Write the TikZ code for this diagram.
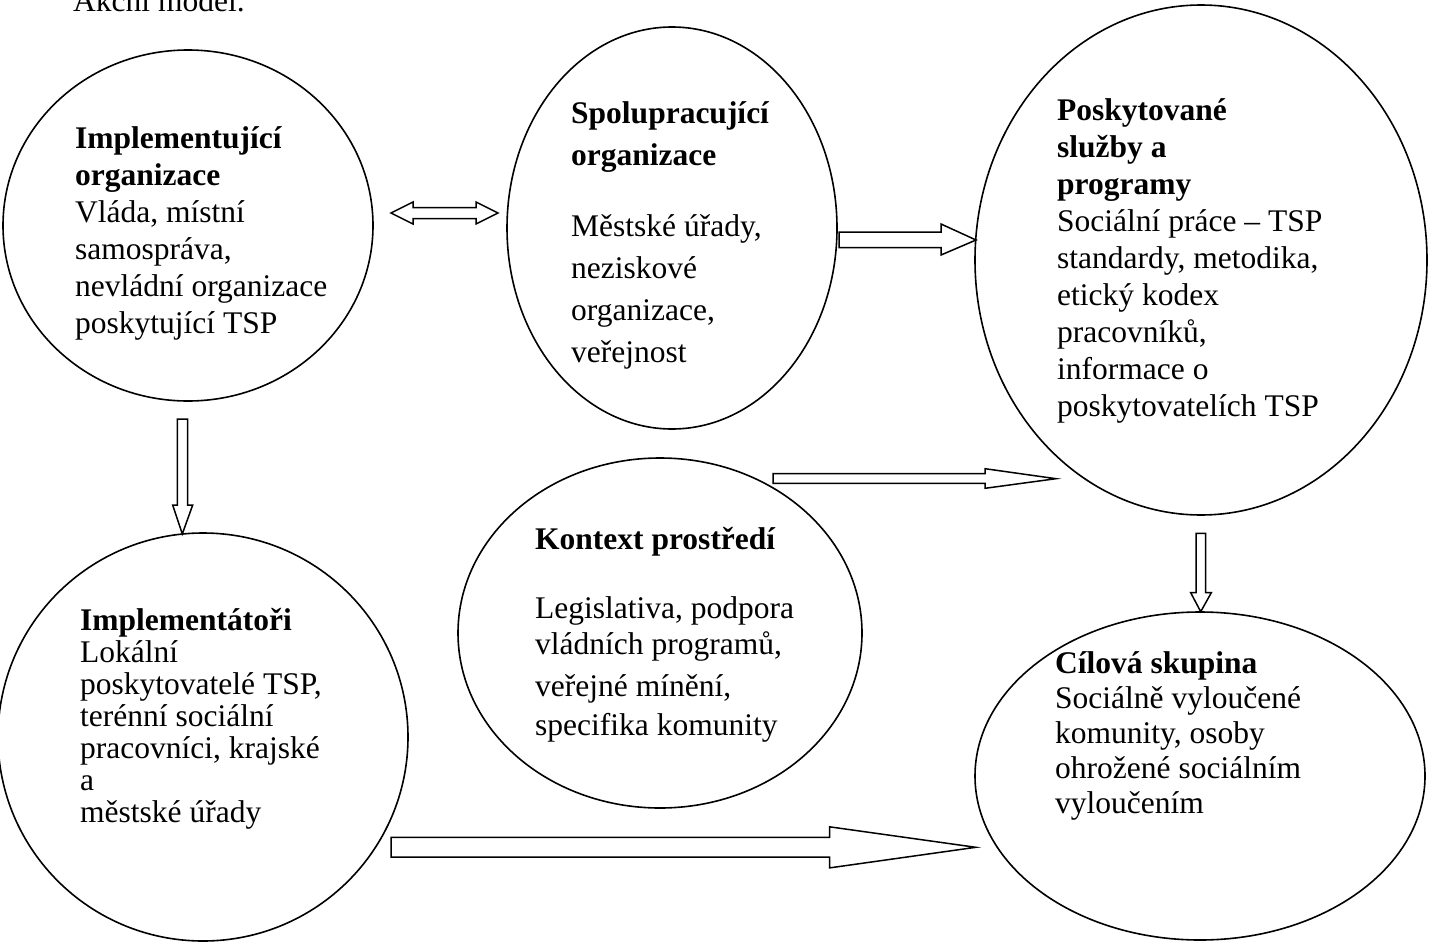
\documentclass[tikz,border=0pt]{standalone}
\usepackage{fontspec}
\setmainfont{Liberation Serif}
\usetikzlibrary{shapes.geometric}
\tikzset{
  oval/.style={draw, line width=1.6pt, ellipse, inner sep=0pt},
  txt/.style={anchor=base west, align=left, inner sep=0pt},
  blockarrow/.style={draw, line width=1.5pt, line join=miter, fill=white},
}
\newcommand{\fs}[1]{\fontsize{31.5}{#1}\selectfont}
\begin{document}
\begin{tikzpicture}[x=1pt,y=-1pt]
\useasboundingbox (0,0) rectangle (1435,942);
% ellipses
\node[oval, minimum width=370pt, minimum height=351pt] (e1) at (188,225.5) {};
\node[oval, minimum width=330pt, minimum height=402pt] (e2) at (672,228) {};
\node[oval, minimum width=452pt, minimum height=510pt] (e3) at (1201,260) {};
\node[oval, minimum width=410pt, minimum height=408pt] (e4) at (203,737) {};
\node[oval, minimum width=404pt, minimum height=350pt] (e5) at (660,633) {};
\node[oval, minimum width=450pt, minimum height=328pt] (e6) at (1200,776) {};
% title (anchor = baseline of last line)
\node[txt, font=\fs{36}] (title) at (73,12) {Akční model.};
% texts
\node[txt, font=\fs{37}] (t1) at (75,333) {\textbf{Implementující}\\\textbf{organizace}\\Vláda, místní\\samospráva,\\nevládní organizace\\poskytující TSP};
\node[txt, font=\fs{42}] (t2) at (571,362) {\textbf{Spolupracující}\\\textbf{organizace}\\[29pt]Městské úřady,\\neziskové\\organizace,\\veřejnost};
\node[txt, font=\fs{37}] (t3) at (1057,416) {\textbf{Poskytované}\\\textbf{služby a}\\\textbf{programy}\\Sociální práce – TSP\\standardy, metodika,\\etický kodex\\pracovníků,\\informace o\\poskytovatelích TSP};
\node[txt, font=\fs{32}] (t4) at (80,822) {\textbf{Implementátoři}\\Lokální\\poskytovatelé TSP,\\terénní sociální\\pracovníci, krajské\\a\\městské úřady};
\node[txt, font=\fs{36}] (t5) at (535,735) {\textbf{Kontext prostředí}\\[33pt]Legislativa, podpora\\vládních programů,\\[6pt]veřejné mínění,\\[3pt]specifika komunity};
\node[txt, font=\fs{35}] (t6) at (1055,813) {\textbf{Cílová skupina}\\Sociálně vyloučené\\komunity, osoby\\ohrožené sociálním\\vyloučením};
% block arrows
% double arrow e1 <-> e2
\draw[blockarrow] (391,213) -- (413,202) -- (413,207.5) -- (476,207.5) -- (476,202) -- (498,213)
  -- (476,224) -- (476,218.5) -- (413,218.5) -- (413,224) -- cycle;
% e2 -> e3
\draw[blockarrow] (839,232) -- (941,232) -- (941,224) -- (976,240) -- (941,255) -- (941,247.5) -- (839,247.5) -- cycle;
% e5 -> e3
\draw[blockarrow] (773,473.7) -- (985,473.7) -- (985,468.7) -- (1056,478.7) -- (985,488.3) -- (985,483.3) -- (773,483.3) -- cycle;
% e1 -> e4
\draw[blockarrow] (177.3,419) -- (187.7,419) -- (187.7,505) -- (192.7,505) -- (182.3,534) -- (172.7,505) -- (177.3,505) -- cycle;
% e3 -> e6
\draw[blockarrow] (1196,533.3) -- (1205.7,533.3) -- (1205.7,592.7) -- (1211.3,592.7) -- (1200.7,611.7) -- (1190.7,592.7) -- (1196,592.7) -- cycle;
% e4 -> e6
\draw[blockarrow] (391,837.4) -- (829.5,837.4) -- (829.5,826.8) -- (975.8,847.3) -- (829.5,867.9) -- (829.5,857.2) -- (391,857.2) -- cycle;
\end{tikzpicture}
\end{document}
